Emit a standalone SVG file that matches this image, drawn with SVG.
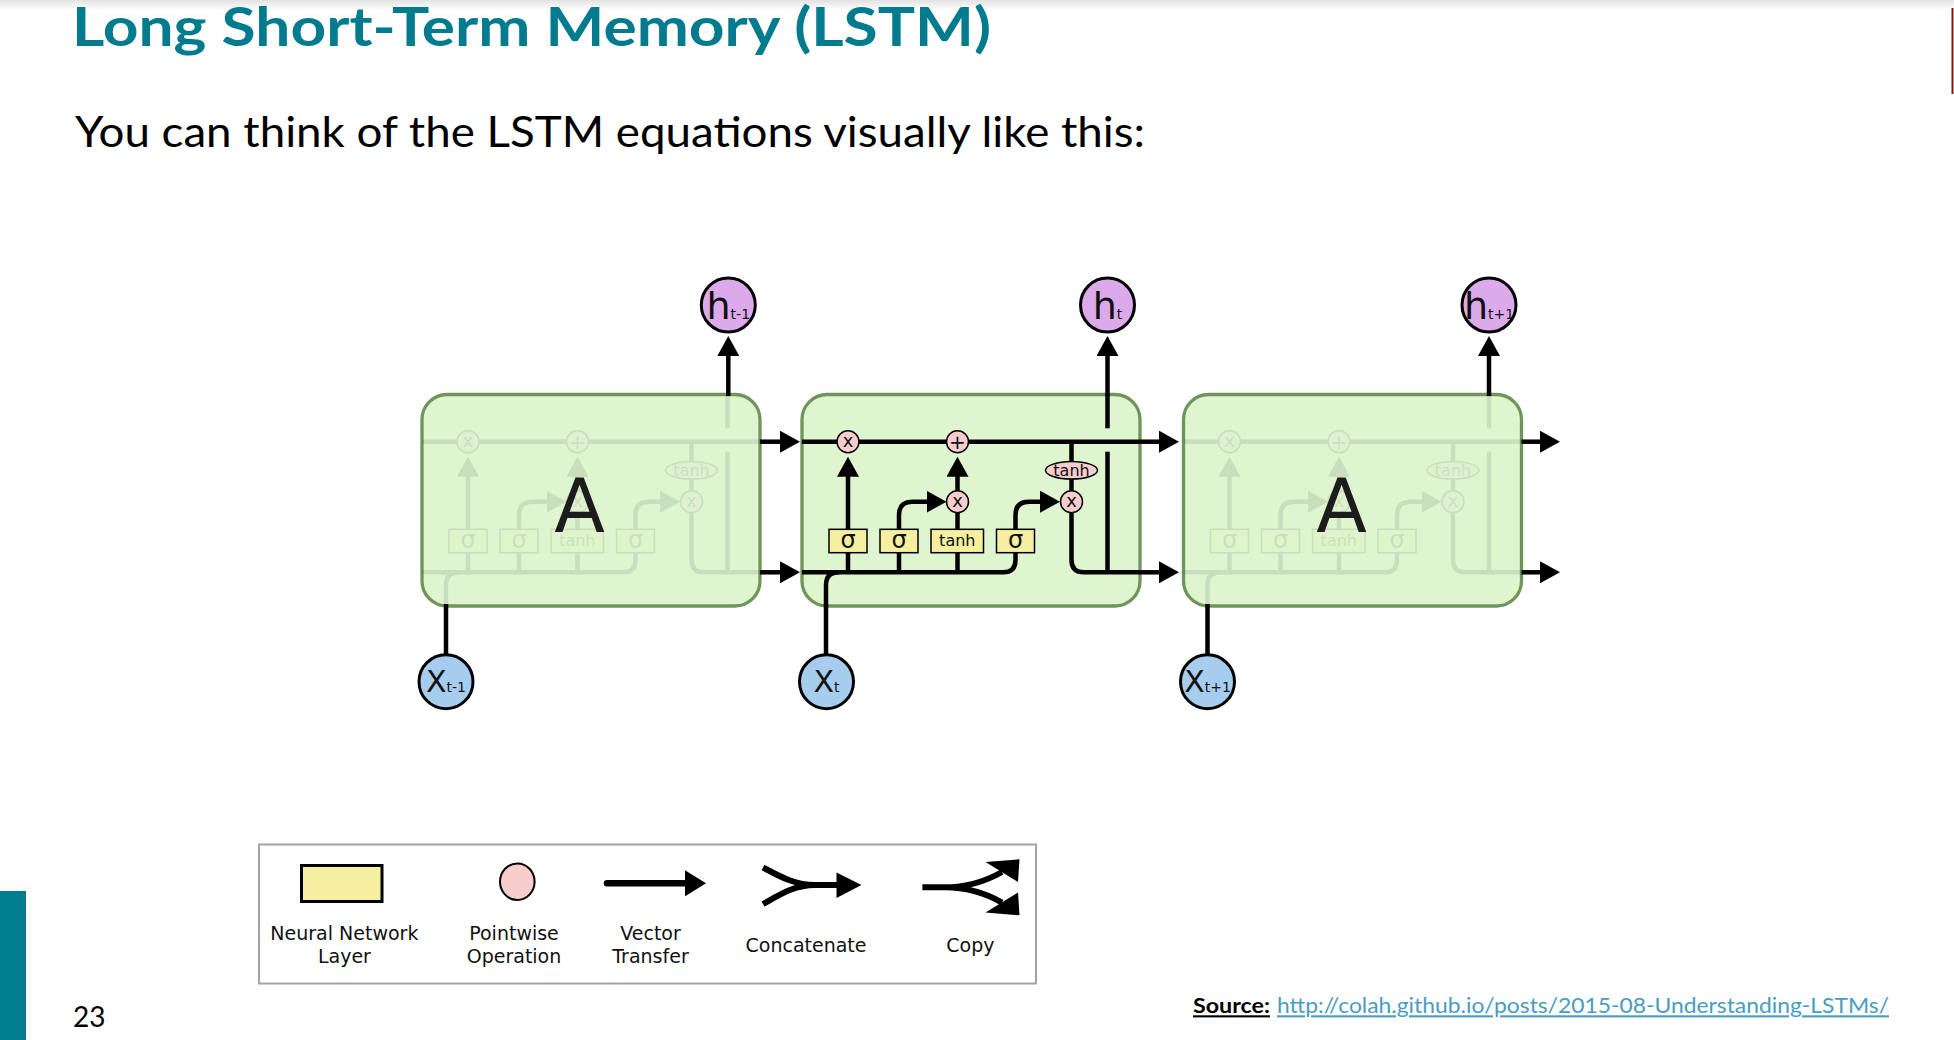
<svg xmlns="http://www.w3.org/2000/svg" xmlns:xlink="http://www.w3.org/1999/xlink" width="1954" height="1040" viewBox="0 0 1954 1040">
<style>
.slide{font-family:Lato,"Liberation Sans",sans-serif}
.dv{font-family:"DejaVu Sans","Liberation Sans",sans-serif}
.wire path{fill:none;stroke:#000;stroke-width:4.5}
.box{fill:#def5d0;stroke:#6f955a;stroke-width:3.3}
.layer{fill:#f5ef9f;stroke:#000;stroke-width:1.5}
.op{fill:#f8cdcd;stroke:#000;stroke-width:1.5}
.sig{font-size:24px;text-anchor:middle;fill:#111}
.tanhT{font-size:16px;text-anchor:middle;fill:#111}
.opT{font-size:18px;text-anchor:middle;fill:#111}
.plusT{font-size:20px;text-anchor:middle;fill:#111}
.bigA{font-size:74px;text-anchor:middle;fill:#1c1c1c}
.hc{fill:#dcaaeb;stroke:#000;stroke-width:3}
.xc{fill:#a6cdee;stroke:#000;stroke-width:3}
.hl{font-size:38px;text-anchor:middle;fill:#111}
.xl{font-size:30px;text-anchor:middle;fill:#111}
.sub{font-size:14px}
.conn path{fill:none;stroke:#000;stroke-width:4.5}
.lg{font-size:19px;text-anchor:middle;fill:#111}
</style>
<defs>
<linearGradient id="topShade" x1="0" y1="0" x2="0" y2="1">
<stop offset="0" stop-color="#e2e2e2"/><stop offset="1" stop-color="#ffffff"/>
</linearGradient>
<marker id="ah" markerUnits="userSpaceOnUse" viewBox="0 0 20 22" markerWidth="20" markerHeight="22" refX="10" refY="11" orient="auto"><path d="M0,0 L20,11 L0,22 Z" fill="#000"/></marker>
<marker id="ahL" markerUnits="userSpaceOnUse" viewBox="0 0 21 26" markerWidth="21" markerHeight="26" refX="11" refY="13" orient="auto"><path d="M0,0 L21,13 L0,26 Z" fill="#000"/></marker>
</defs>
<rect width="1954" height="1040" fill="#fff"/>
<rect width="1954" height="10" fill="url(#topShade)"/>
<line x1="1952.5" y1="8" x2="1952.5" y2="94" stroke="#7a1a14" stroke-width="2"/>
<rect x="0" y="891" width="26" height="149" fill="#007d8f"/>

<g id="title">
<text class="slide" x="72" y="46" font-size="53" font-weight="bold" fill="#037b8e" textLength="919" lengthAdjust="spacingAndGlyphs">Long Short-Term Memory (LSTM)</text>
</g>
<g id="subtitle">
<text class="slide" x="75" y="146.7" font-size="42" fill="#000" textLength="1070" lengthAdjust="spacingAndGlyphs">You can think of the LSTM equations visually like this:</text>
</g>

<g id="cell-A-prev">
<rect class="box" x="422" y="394.5" width="338" height="211.5" rx="25"/>
<g opacity="0.09" transform="translate(-380 0)"><use xlink:href="#wiring-t"/><use xlink:href="#gates-t"/></g>
<text class="dv bigA" x="579.5" y="531.7">A</text>
</g>
<g id="cell-t">
<rect class="box" x="802" y="394.5" width="338" height="211.5" rx="25"/>
</g>
<g id="cell-A-next">
<rect class="box" x="1183.5" y="394.5" width="338" height="211.5" rx="25"/>
<g opacity="0.09" transform="translate(381.5 0)"><use xlink:href="#wiring-t"/><use xlink:href="#gates-t"/></g>
<text class="dv bigA" x="1341.5" y="531.7">A</text>
</g>

<g id="connectors" class="conn">
<path d="M760,441.7 H790" marker-end="url(#ah)"/>
<path d="M760,572.3 H790" marker-end="url(#ah)"/>
<path d="M1140,441.7 H1169" marker-end="url(#ah)"/>
<path d="M1140,572.3 H1169" marker-end="url(#ah)"/>
<path d="M1521.5,441.7 H1550" marker-end="url(#ah)"/>
<path d="M1521.5,572.3 H1550" marker-end="url(#ah)"/>
<path d="M728.3,396 V346" marker-end="url(#ah)"/>
<path d="M1107.5,396 V346" marker-end="url(#ah)"/>
<path d="M1489,396 V346" marker-end="url(#ah)"/>
<path d="M446,655 V604"/>
<path d="M826,655 V604"/>
<path d="M1207.5,655 V604"/>
<g id="wiring-t" class="wire">
<path d="M802,441.7 H1140"/>
<path d="M802,572.3 H1003 Q1015.5,572.3 1015.5,560 V552.7"/>
<path d="M826,606 V585 Q826,572.3 839,572.3"/>
<path d="M848,572.3 V552.7"/>
<path d="M899,572.3 V552.7"/>
<path d="M957.5,572.3 V552.7"/>
<path d="M848,529.3 V466.7" marker-end="url(#ah)"/>
<path d="M899,529.3 V515 Q899,501.7 912,501.7 H936.5" marker-end="url(#ah)"/>
<path d="M957.5,529.3 V512.7"/>
<path d="M957.5,490.7 V466.7" marker-end="url(#ah)"/>
<path d="M1015.5,529.3 V515 Q1015.5,501.7 1029,501.7 H1050" marker-end="url(#ah)"/>
<path d="M1071.5,441.7 V461.7"/>
<path d="M1071.5,479 V490.7"/>
<path d="M1071.5,512.7 V560 Q1071.5,572.3 1084,572.3 H1140"/>
<path d="M1107.5,572.3 V451.7"/>
<path d="M1107.5,428.3 V394.5"/>
</g>
</g>

<g id="gates-t" class="dv">
<g id="gate-forget"><rect class="layer" x="829" y="529.3" width="38" height="23.4"/><text class="sig" x="848" y="548">σ</text></g>
<g id="gate-input"><rect class="layer" x="880" y="529.3" width="38" height="23.4"/><text class="sig" x="899" y="548">σ</text></g>
<g id="gate-candidate"><rect class="layer" x="931" y="529.3" width="52.5" height="23.4"/><text class="tanhT" x="957.3" y="546">tanh</text></g>
<g id="gate-output"><rect class="layer" x="996.5" y="529.3" width="38" height="23.4"/><text class="sig" x="1015.5" y="548">σ</text></g>
<g id="op-forget-mul"><circle class="op" cx="848" cy="441.7" r="11"/><text class="opT" x="848" y="446.6">x</text></g>
<g id="op-add"><circle class="op" cx="957.5" cy="441.7" r="11"/><text class="plusT" x="957.5" y="448.6">+</text></g>
<g id="op-input-mul"><circle class="op" cx="957.5" cy="501.7" r="11"/><text class="opT" x="957.5" y="506.6">x</text></g>
<g id="op-tanh"><ellipse class="op" cx="1071.5" cy="470.3" rx="26" ry="8.7"/><text class="tanhT" x="1071.5" y="475.5">tanh</text></g>
<g id="op-output-mul"><circle class="op" cx="1071.5" cy="501.7" r="11"/><text class="opT" x="1071.5" y="506.6">x</text></g>
</g>

<g id="h-prev" class="dv"><circle class="hc" cx="728.3" cy="305" r="27"/><text class="hl" x="728.3" y="318.5">h<tspan class="sub">t-1</tspan></text></g>
<g id="h-t" class="dv"><circle class="hc" cx="1107.5" cy="305" r="27"/><text class="hl" x="1107.5" y="318.5">h<tspan class="sub">t</tspan></text></g>
<g id="h-next" class="dv"><circle class="hc" cx="1489" cy="305" r="27"/><text class="hl" x="1489" y="318.5">h<tspan class="sub">t+1</tspan></text></g>
<g id="x-prev" class="dv"><circle class="xc" cx="446" cy="681.7" r="27"/><text class="xl" x="446" y="692">X<tspan class="sub">t-1</tspan></text></g>
<g id="x-t" class="dv"><circle class="xc" cx="826.5" cy="681.7" r="27"/><text class="xl" x="826.5" y="692">X<tspan class="sub">t</tspan></text></g>
<g id="x-next" class="dv"><circle class="xc" cx="1207.5" cy="681.7" r="27"/><text class="xl" x="1207.5" y="692">X<tspan class="sub">t+1</tspan></text></g>

<g id="legend" class="dv">
<rect x="259" y="844.5" width="777" height="139" fill="#fff" stroke="#a3a3a3" stroke-width="2"/>
<g id="legend-layer"><rect x="301.5" y="865.5" width="80.5" height="36" fill="#f5ef9f" stroke="#000" stroke-width="3"/><text class="lg" x="344.4" y="940">Neural Network</text><text class="lg" x="344.4" y="963.3">Layer</text></g>
<g id="legend-pointwise"><ellipse cx="517.3" cy="881.7" rx="17.3" ry="18.3" fill="#f8cdcd" stroke="#000" stroke-width="2"/><text class="lg" x="514" y="940">Pointwise</text><text class="lg" x="514" y="963.3">Operation</text></g>
<g id="legend-vector"><path d="M607,883.3 H696" fill="none" stroke="#000" stroke-width="6.5" stroke-linecap="round" marker-end="url(#ahL)"/><text class="lg" x="650.5" y="940">Vector</text><text class="lg" x="650.5" y="963.3">Transfer</text></g>
<g id="legend-concat"><path d="M763,867.5 C781,877 795,885 815,885 H840 M763,904 C781,894 795,885 815,885" fill="none" stroke="#000" stroke-width="6"/><path d="M836.5,872.5 L861.5,885 L836.5,898 Z" fill="#000"/><text class="lg" x="806" y="951.7">Concatenate</text></g>
<g id="legend-copy"><path d="M922.4,887.3 H945 Q975,887.3 1002,872 M945,887.3 Q975,887.3 1002,902.6" fill="none" stroke="#000" stroke-width="6"/><path d="M985.5,862 L1019.5,859.3 L1018,882 Z M985.5,912.6 L1019.5,915.3 L1018,892.6 Z" fill="#000"/><text class="lg" x="970.4" y="951.7">Copy</text></g>
</g>

<g id="footer" class="slide">
<text x="73" y="1026.7" font-size="28" fill="#000">23</text>
<text x="1193" y="1013.3" font-size="21" font-weight="bold" fill="#000" text-decoration="underline" textLength="77" lengthAdjust="spacingAndGlyphs">Source:</text>
<text x="1277" y="1013.3" font-size="21" fill="#4a9cc2" text-decoration="underline" textLength="612" lengthAdjust="spacingAndGlyphs">http://colah.github.io/posts/2015-08-Understanding-LSTMs/</text>
</g>
</svg>
